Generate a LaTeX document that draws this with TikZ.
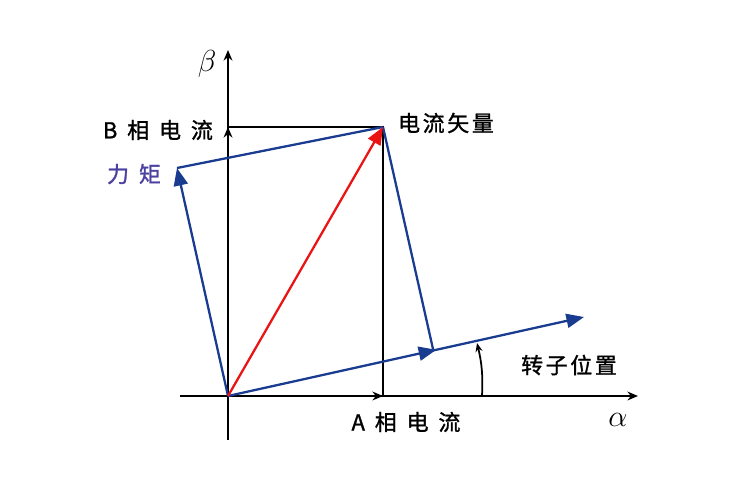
\documentclass[tikz,border=0pt]{standalone}
\usepackage{fontspec}
\newfontfamily\cjk[FakeBold=1.2]{Noto Sans CJK SC}
\usepackage{amsmath}
\usetikzlibrary{arrows.meta,decorations.markings,positioning}
\definecolor{vecblue}{RGB}{25,60,145}
\definecolor{vecred}{RGB}{235,20,20}
\definecolor{torquelbl}{RGB}{75,65,160}
\newcommand\gap{\hspace{0.12em}}
\newcommand\wgap{\hspace{0.45em}}
\tikzset{
  axis/.style={black,line width=1.3pt,-{Stealth[length=6pt,width=5pt]}},
  proj/.style={black,line width=1.3pt},
  bluevec/.style={vecblue,line width=1.3pt},
  bluetip/.style={-{Triangle[length=10pt,width=8pt]}},
  lbl/.style={font=\cjk\fontsize{12.5}{14}\selectfont,inner sep=1pt},
  greek/.style={font=\fontsize{18}{20}\selectfont,inner sep=1pt},
}
\begin{document}
\begin{tikzpicture}[x=0.02cm,y=-0.02cm]
\useasboundingbox (0,0) rectangle (750,488);
% points
\coordinate (O) at (228,396);
\coordinate (Ytop) at (228,50);
\coordinate (Ybot) at (228,440);
\coordinate (Xleft) at (180,396);
\coordinate (Xright) at (638,396);
\coordinate (C) at (383,127);
\coordinate (Bp) at (228,127);
\coordinate (Ap) at (383,396);
\coordinate (F) at (433,349);
\coordinate (P) at (584,317);
\coordinate (T) at (177,168);
\coordinate (R0) at (482,396);
\coordinate (R1) at (477,343);

% axes
\draw[axis] (Ybot) -- (Ytop);
\draw[axis] (Xleft) -- (Xright);
\draw[axis] (O) -- (Bp);
\draw[axis] (O) -- (Ap);
\draw[proj] (Bp) -- (C) -- (Ap);

% vectors
\draw[bluevec,bluetip,
  postaction={decorate},
  decoration={markings,mark=at position 0.585 with {\arrow{Triangle[length=10pt,width=8pt]}}}]
  (O) -- (P);
\draw[bluevec] (C) -- (F);
\draw[bluevec,bluetip] (O) -- (T);
\draw[bluevec] (T) -- (C);
\draw[vecred,line width=1.3pt,-{Triangle[length=10pt,width=8pt]}] (O) -- (C);
\draw[black,line width=1pt,-{Stealth[length=5pt,width=4pt]}] (R0) to[bend right=8] (R1);

% labels
\node[greek] (beta) at (207,64) {$\beta$};
\node[greek] (alpha) at (618,420) {$\alpha$};
\node[greek] (phi) at (608,313) {$\mathit{\Phi}$};
\node[lbl,anchor=east] (bcur) at (215,130) {B\wgap 相\wgap 电\wgap 流};
\node[lbl,text=torquelbl] (torque) at (134,174) {力\wgap 矩};
\node[lbl,anchor=west] (cvec) at (396,123) {电\gap 流\gap 矢\gap 量};
\node[lbl] (acur) at (406,422) {A\wgap 相\wgap 电\wgap 流};
\node[lbl] (rotor) at (569,365) {转\gap 子\gap 位\gap 置};
\end{tikzpicture}
\end{document}
